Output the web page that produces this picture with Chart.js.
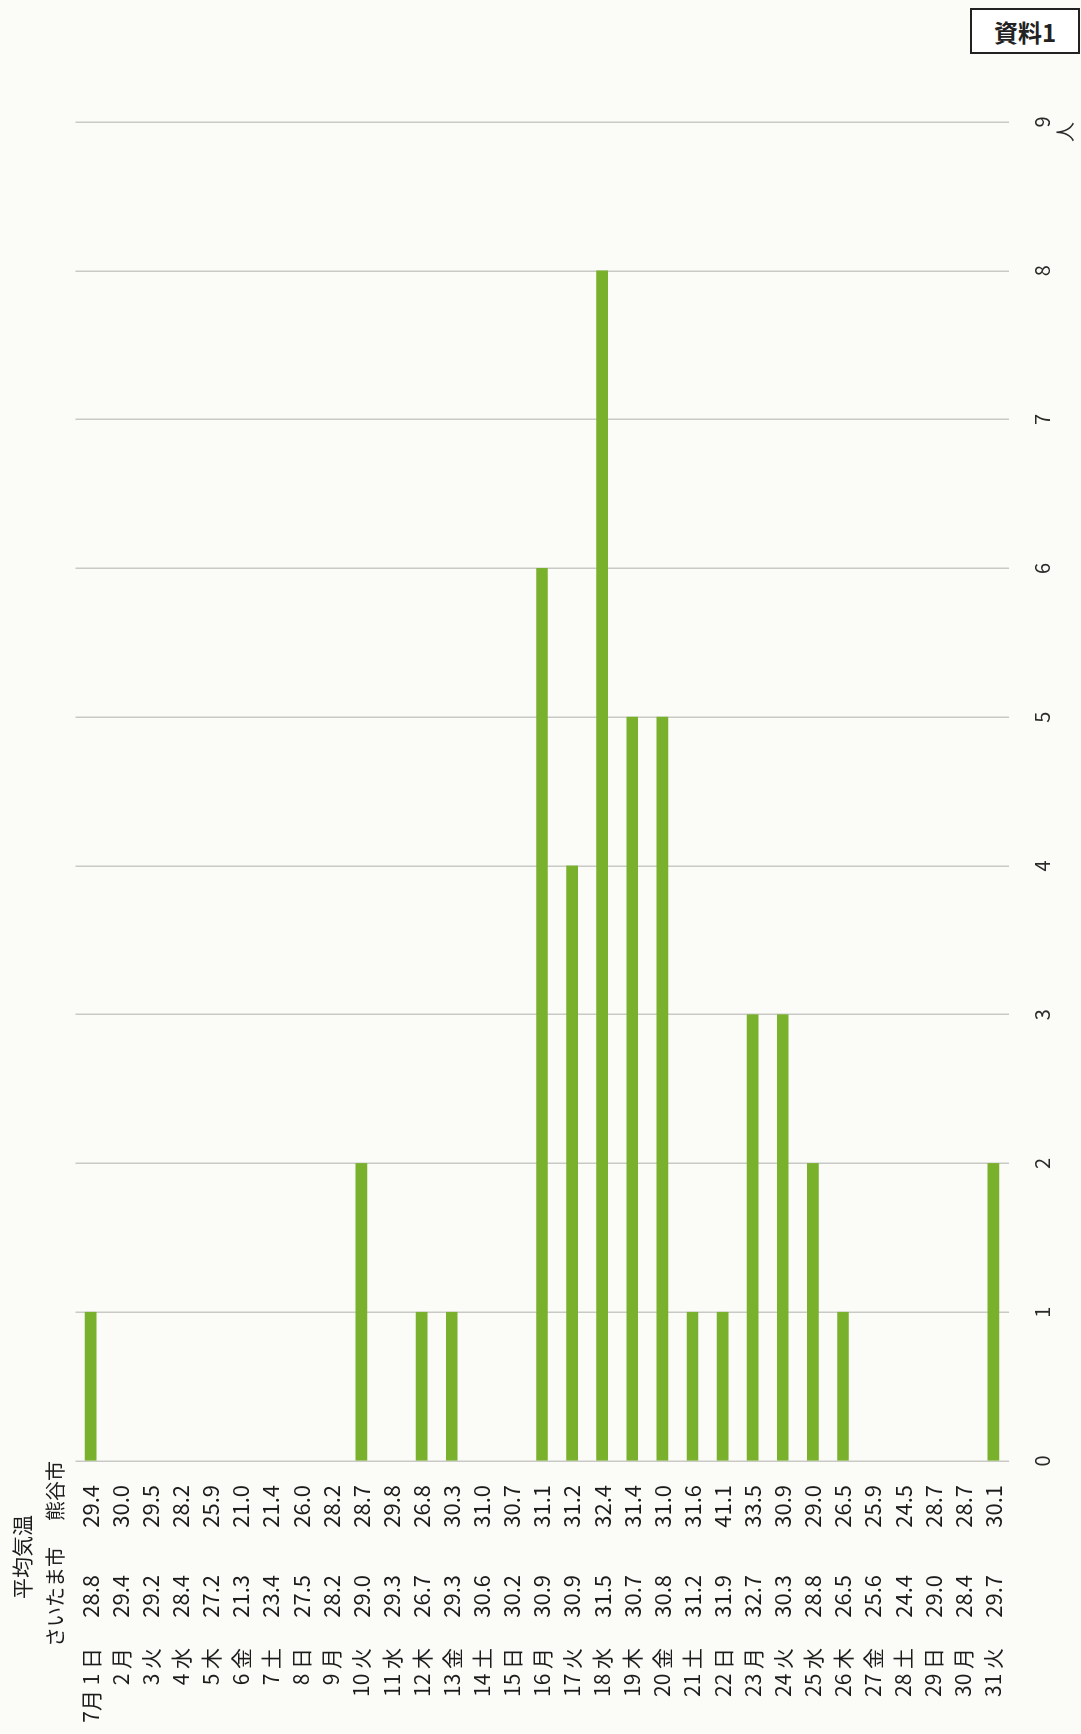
<!DOCTYPE html>
<html><head><meta charset="utf-8">
<script src="https://cdn.jsdelivr.net/npm/chart.js@4/dist/chart.umd.min.js"></script>
<style>
html,body{margin:0;padding:0;background:#fbfbf8;overflow:hidden;width:1081px;height:1734px;}
#rot{position:absolute;left:0;top:1734px;width:1734px;height:1081px;transform-origin:0 0;transform:rotate(-90deg);}
#c{display:block;width:1734px;height:1081px;}
#tag{position:absolute;left:970px;top:8px;width:106px;height:42px;border:2px solid #222;font:bold 24px "Noto Sans CJK JP",sans-serif;display:flex;align-items:center;justify-content:center;color:#222;background:#fff;box-sizing:content-box;}
</style></head><body>
<div id="rot"><canvas id="c" width="1734" height="1081"></canvas></div>
<div id="tag">資料1</div>
<script>
const dayLabels = ['7月 1 日','2 月','3 火','4 水','5 木','6 金','7 土','8 日','9 月','10 火','11 水','12 木','13 金','14 土','15 日','16 月','17 火','18 水','19 木','20 金','21 土','22 日','23 月','24 火','25 水','26 木','27 金','28 土','29 日','30 月','31 火'];
const saitamaTemp = ['28.8','29.4','29.2','28.4','27.2','21.3','23.4','27.5','28.2','29.0','29.3','26.7','29.3','30.6','30.2','30.9','30.9','31.5','30.7','30.8','31.2','31.9','32.7','30.3','28.8','26.5','25.6','24.4','29.0','28.4','29.7'];
const kumagayaTemp = ['29.4','30.0','29.5','28.2','25.9','21.0','21.4','26.0','28.2','28.7','29.8','26.8','30.3','31.0','30.7','31.1','31.2','32.4','31.4','31.0','31.6','41.1','33.5','30.9','29.0','26.5','25.9','24.5','28.7','28.7','30.1'];
const counts = [1,0,0,0,0,0,0,0,0,2,0,1,1,0,0,6,4,8,5,5,1,1,3,3,2,1,0,0,0,0,2];
const valueTicks = [0,1,2,3,4,5,6,7,8,9];
const headerTitle = '平均気温';
const headerSaitama = 'さいたま市';
const headerKumagaya = '熊谷市';
const unitLabel = '人';

const FONT = '"Noto Sans CJK JP", "Noto Sans", sans-serif';
const TXT = '#1c1c1c';

const headerPlugin = {
  id: 'headers',
  afterDraw(chart) {
    const ctx = chart.ctx;
    ctx.save();
    ctx.fillStyle = TXT;
    ctx.textAlign = 'center';
    ctx.textBaseline = 'middle';
    ctx.font = '21px ' + FONT;
    ctx.fillText(headerTitle, 177, 22);
    ctx.font = '20px ' + FONT;
    ctx.fillText(headerSaitama, 137, 55);
    ctx.fillText(headerKumagaya, 243, 55);
    const xs = chart.scales.x;
    ctx.fillStyle = '#2a2a2a';
    ctx.font = '20px ' + FONT;
    ctx.fillText(unitLabel, xs.getPixelForValue(valueTicks[valueTicks.length-1]) - 10, 1065);
    ctx.restore();
  }
};

function fixW(w){ return function(s){ s.width = w; }; }

new Chart(document.getElementById('c'), {
  type: 'bar',
  data: {
    labels: dayLabels,
    datasets: [{
      data: counts,
      backgroundColor: (c) => (c.raw === 0 ? 'rgba(0,0,0,0)' : '#79b02c'),
      borderWidth: 0,
      barThickness: 11,
      yAxisID: 'y'
    }]
  },
  options: {
    indexAxis: 'y',
    responsive: false,
    animation: false,
    devicePixelRatio: 1,
    layout: { padding: { left: 0, top: 75.5, right: 122, bottom: 22.5 } },
    plugins: { legend: { display: false }, tooltip: { enabled: false } },
    scales: {
      x: {
        position: 'bottom',
        min: 0, max: 9,
        afterFit: function(s){ s.height = 50; },
        afterBuildTicks: function(s){ s.ticks = valueTicks.map(v => ({value: v})); },
        ticks: { stepSize: 1, padding: 22, color: '#2a2a2a', font: { family: FONT, size: 20 } },
        grid: { color: 'rgba(0,0,0,0.2)', lineWidth: 1.5, drawTicks: false },
        border: { display: false }
      },
      y: {
        type: 'category', position: 'left', weight: 1, offset: true,
        labels: kumagayaTemp,
        afterFit: fixW(90),
        ticks: { autoSkip: false, crossAlign: 'center', padding: 24, color: TXT, font: { family: FONT, size: 22 } },
        grid: { display: false, drawTicks: false, offset: true },
        border: { display: false }
      },
      y2: {
        type: 'category', position: 'left', weight: 2, offset: true,
        labels: saitamaTemp,
        afterFit: fixW(91),
        ticks: { autoSkip: false, crossAlign: 'center', padding: 24, color: TXT, font: { family: FONT, size: 22 } },
        grid: { display: false, drawTicks: false },
        border: { display: false }
      },
      y3: {
        type: 'category', position: 'left', weight: 3, offset: true,
        labels: dayLabels,
        afterFit: fixW(92),
        ticks: { autoSkip: false, crossAlign: 'near', padding: 6, color: TXT, font: { family: FONT, size: 21 } },
        grid: { display: false, drawTicks: false },
        border: { display: false }
      }
    }
  },
  plugins: [headerPlugin]
});
</script>
</body></html>
